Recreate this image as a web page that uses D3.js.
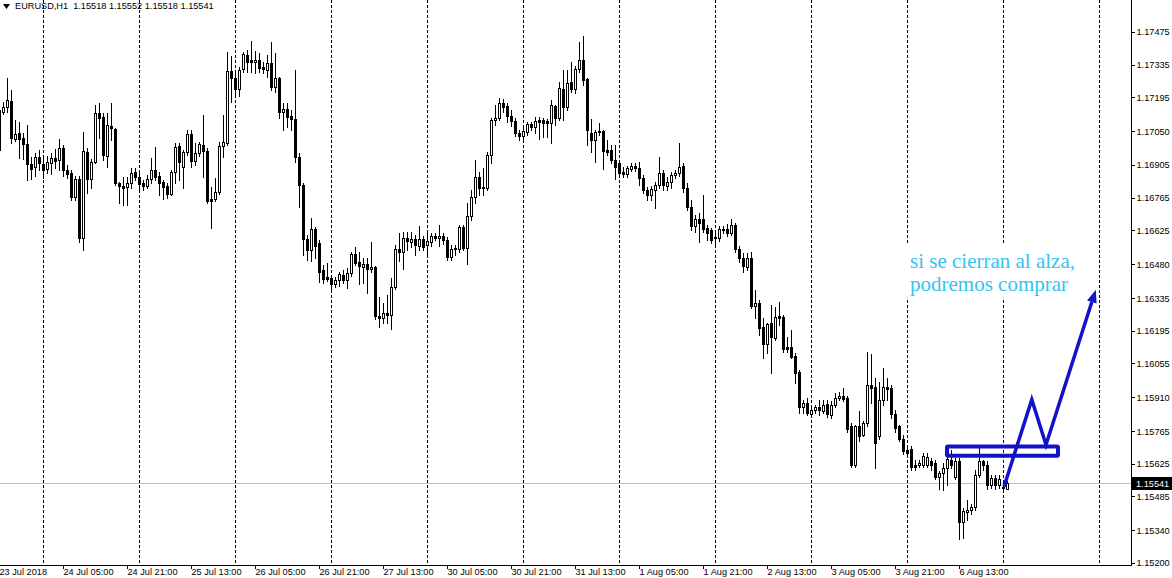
<!DOCTYPE html>
<html><head><meta charset="utf-8">
<script src="https://cdn.jsdelivr.net/npm/d3@7"></script>
<style>body{margin:0;background:#fff}svg{display:block}</style>
</head><body>
<svg id="c" width="1172" height="578"></svg>
<script>
// ---------- DATA ----------
const symbolTitle = "EURUSD,H1  1.15518 1.15552 1.15518 1.15541";
const firstBar = -11; // bar index of first candle (24 Jul 00:00 = bar 0), H1 bars

const open = [
1.17141,1.17132,1.17154,1.17180,1.17017,1.17043,1.17021,1.16996,1.16910,1.16897,1.16940,
1.16910,1.16889,1.16915,1.16936,1.16927,1.16979,1.16884,1.16872,1.16769,1.16846,
1.16593,1.16961,1.16846,1.16919,1.17128,1.17111,1.16944,1.17073,1.17060,1.16829,
1.16816,1.16812,1.16829,1.16876,1.16854,1.16829,1.16816,1.16846,1.16884,1.16859,
1.16833,1.16816,1.16782,1.16876,1.16987,1.16897,1.16961,1.17039,1.16923,1.16957,
1.16991,1.16966,1.16760,1.16760,1.16790,1.16987,1.17000,1.17308,1.17278,1.17231,
1.17317,1.17377,1.17355,1.17347,1.17355,1.17325,1.17312,1.17342,1.17240,1.17278,
1.17132,1.17145,1.17116,1.17103,1.16940,1.16820,1.16589,1.16542,1.16632,1.16572,
1.16456,1.16426,1.16422,1.16397,1.16414,1.16435,1.16414,1.16444,1.16525,1.16491,
1.16469,1.16482,1.16461,1.16469,1.16260,1.16251,1.16272,1.16264,1.16384,1.16546,
1.16534,1.16593,1.16576,1.16589,1.16559,1.16589,1.16563,1.16576,1.16602,1.16593,
1.16602,1.16585,1.16512,1.16551,1.16546,1.16641,1.16551,1.16688,1.16769,1.16854,
1.16812,1.16807,1.16949,1.17098,1.17107,1.17171,1.17158,1.17116,1.17094,1.17043,
1.17030,1.17047,1.17081,1.17068,1.17098,1.17098,1.17094,1.17086,1.17158,1.17107,
1.17231,1.17154,1.17261,1.17231,1.17317,1.17355,1.17274,1.17043,1.17013,1.17051,
1.17051,1.16970,1.16970,1.16927,1.16915,1.16876,1.16867,1.16889,1.16902,1.16893,
1.16850,1.16799,1.16777,1.16799,1.16820,1.16872,1.16816,1.16833,1.16863,1.16872,
1.16902,1.16807,1.16726,1.16645,1.16675,1.16675,1.16636,1.16628,1.16598,1.16593,
1.16632,1.16632,1.16615,1.16649,1.16546,1.16508,1.16469,1.16508,1.16302,1.16315,
1.16212,1.16139,1.16230,1.16165,1.16260,1.16255,1.16127,1.16127,1.16088,1.16020,
1.15870,1.15887,1.15840,1.15857,1.15870,1.15853,1.15883,1.15836,1.15879,1.15909,
1.15917,1.15909,1.15785,1.15618,1.15789,1.15750,1.15798,1.15964,1.15956,1.15746,
1.15900,1.15956,1.15951,1.15840,1.15785,1.15733,1.15686,1.15690,1.15622,1.15618,
1.15622,1.15622,1.15639,1.15630,1.15570,1.15587,1.15609,1.15643,1.15570,1.15635,
1.15374,1.15417,1.15429,1.15438,1.15579,1.15635,1.15622,1.15536,1.15566,1.15536,
1.15527,1.15518];

const high = [
1.17163,1.17175,1.17278,1.17227,1.17098,1.17090,1.17043,1.17077,1.16940,1.16957,1.16970,
1.16940,1.16944,1.16957,1.16974,1.17017,1.16991,1.16906,1.16884,1.16859,1.16859,
1.17047,1.16979,1.16932,1.17163,1.17171,1.17128,1.17128,1.17171,1.17064,1.16833,
1.16854,1.16854,1.16893,1.16893,1.16876,1.16842,1.16863,1.16936,1.16983,1.16876,
1.16842,1.16829,1.16884,1.17000,1.17000,1.16970,1.17056,1.17056,1.17000,1.17004,
1.17120,1.16979,1.16812,1.16850,1.17004,1.17120,1.17389,1.17372,1.17300,1.17325,
1.17389,1.17398,1.17436,1.17394,1.17385,1.17347,1.17377,1.17432,1.17385,1.17282,
1.17171,1.17171,1.17141,1.17312,1.16957,1.16829,1.16606,1.16679,1.16640,1.16585,
1.16478,1.16487,1.16431,1.16426,1.16448,1.16456,1.16465,1.16534,1.16555,1.16534,
1.16508,1.16508,1.16576,1.16474,1.16341,1.16315,1.16349,1.16422,1.16563,1.16615,
1.16619,1.16619,1.16619,1.16606,1.16645,1.16602,1.16619,1.16615,1.16615,1.16649,
1.16615,1.16598,1.16563,1.16563,1.16649,1.16649,1.16743,1.16799,1.16927,1.16876,
1.16893,1.16961,1.17107,1.17163,1.17193,1.17188,1.17171,1.17141,1.17107,1.17056,
1.17064,1.17090,1.17090,1.17111,1.17111,1.17107,1.17103,1.17184,1.17163,1.17261,
1.17312,1.17312,1.17347,1.17330,1.17432,1.17458,1.17278,1.17103,1.17056,1.17086,
1.17056,1.17013,1.16991,1.16991,1.16927,1.16897,1.16902,1.16915,1.16915,1.16919,
1.16863,1.16812,1.16816,1.16833,1.16940,1.16884,1.16854,1.16876,1.16884,1.17000,
1.16915,1.16829,1.16756,1.16692,1.16701,1.16777,1.16649,1.16636,1.16615,1.16645,
1.16645,1.16653,1.16675,1.16658,1.16559,1.16529,1.16529,1.16534,1.16371,1.16328,
1.16251,1.16230,1.16307,1.16298,1.16320,1.16264,1.16170,1.16200,1.16101,1.16028,
1.15900,1.15909,1.15870,1.15879,1.15900,1.15900,1.15900,1.15892,1.15930,1.15934,
1.15951,1.15917,1.15798,1.15793,1.15853,1.15810,1.16106,1.16097,1.15994,1.15977,
1.16037,1.15994,1.15964,1.15857,1.15793,1.15750,1.15703,1.15703,1.15643,1.15643,
1.15673,1.15673,1.15652,1.15643,1.15596,1.15630,1.15665,1.15686,1.15652,1.15652,
1.15434,1.15472,1.15451,1.15600,1.15707,1.15643,1.15635,1.15579,1.15575,1.15575,
1.15549,1.15552];

const low = [
1.16949,1.17124,1.17132,1.17000,1.17009,1.16936,1.16932,1.16842,1.16846,1.16859,1.16884,
1.16850,1.16872,1.16867,1.16893,1.16884,1.16859,1.16850,1.16756,1.16756,1.16576,
1.16542,1.16786,1.16807,1.16915,1.17021,1.16927,1.16897,1.17013,1.16820,1.16743,
1.16735,1.16735,1.16807,1.16842,1.16790,1.16799,1.16807,1.16829,1.16842,1.16777,
1.16760,1.16765,1.16777,1.16829,1.16842,1.16807,1.16949,1.16897,1.16906,1.16944,
1.16854,1.16743,1.16636,1.16752,1.16782,1.16940,1.16991,1.17175,1.17205,1.17201,
1.17304,1.17304,1.17304,1.17300,1.17304,1.17300,1.17282,1.17227,1.17218,1.17107,
1.17056,1.17068,1.17056,1.16919,1.16726,1.16521,1.16499,1.16495,1.16508,1.16405,
1.16401,1.16409,1.16371,1.16384,1.16388,1.16401,1.16380,1.16431,1.16478,1.16397,
1.16401,1.16358,1.16448,1.16247,1.16212,1.16230,1.16230,1.16204,1.16375,1.16495,
1.16461,1.16542,1.16555,1.16521,1.16542,1.16542,1.16521,1.16559,1.16585,1.16559,
1.16568,1.16499,1.16499,1.16521,1.16534,1.16542,1.16482,1.16670,1.16743,1.16777,
1.16777,1.16799,1.16915,1.17077,1.17098,1.17132,1.17090,1.17073,1.17030,1.17013,
1.17004,1.17034,1.17056,1.17043,1.17017,1.17026,1.17026,1.17000,1.17077,1.17098,
1.17098,1.17141,1.17218,1.17214,1.17304,1.17248,1.16991,1.16961,1.16919,1.17034,
1.16889,1.16949,1.16915,1.16846,1.16859,1.16854,1.16854,1.16880,1.16880,1.16820,
1.16786,1.16756,1.16756,1.16722,1.16807,1.16799,1.16799,1.16807,1.16850,1.16859,
1.16790,1.16713,1.16628,1.16619,1.16576,1.16619,1.16585,1.16572,1.16563,1.16580,
1.16615,1.16602,1.16606,1.16534,1.16491,1.16448,1.16456,1.16294,1.16251,1.16178,
1.16080,1.16101,1.16016,1.16157,1.16221,1.16105,1.16105,1.16080,1.15973,1.15844,
1.15844,1.15836,1.15832,1.15844,1.15836,1.15844,1.15827,1.15823,1.15870,1.15900,
1.15896,1.15763,1.15610,1.15610,1.15721,1.15742,1.15789,1.15887,1.15605,1.15733,
1.15879,1.15900,1.15823,1.15763,1.15724,1.15665,1.15656,1.15600,1.15600,1.15610,
1.15613,1.15613,1.15600,1.15558,1.15515,1.15511,1.15536,1.15609,1.15558,1.15301,
1.15309,1.15386,1.15408,1.15429,1.15570,1.15600,1.15515,1.15523,1.15515,1.15523,
1.15515,1.15518];

const close = [
1.16970,1.17154,1.17184,1.17021,1.17039,1.17017,1.16996,1.16910,1.16889,1.16940,1.16915,
1.16884,1.16919,1.16936,1.16923,1.16979,1.16884,1.16867,1.16769,1.16846,1.16593,
1.16966,1.16846,1.16919,1.17128,1.17107,1.16949,1.17077,1.17064,1.16829,1.16816,
1.16807,1.16829,1.16872,1.16854,1.16824,1.16816,1.16846,1.16884,1.16854,1.16829,
1.16812,1.16782,1.16876,1.16983,1.16919,1.16961,1.17039,1.16923,1.16957,1.16996,
1.16966,1.16752,1.16752,1.16790,1.16987,1.17004,1.17308,1.17278,1.17231,1.17312,
1.17381,1.17347,1.17347,1.17355,1.17321,1.17317,1.17342,1.17240,1.17278,1.17132,
1.17145,1.17111,1.17103,1.16940,1.16820,1.16589,1.16542,1.16632,1.16559,1.16448,
1.16418,1.16418,1.16397,1.16414,1.16439,1.16414,1.16444,1.16525,1.16487,1.16474,
1.16482,1.16461,1.16469,1.16260,1.16251,1.16272,1.16264,1.16384,1.16546,1.16534,
1.16593,1.16580,1.16589,1.16563,1.16589,1.16555,1.16580,1.16602,1.16593,1.16602,
1.16585,1.16512,1.16546,1.16546,1.16641,1.16551,1.16688,1.16769,1.16854,1.16807,
1.16807,1.16949,1.17098,1.17107,1.17171,1.17154,1.17116,1.17094,1.17043,1.17030,
1.17051,1.17081,1.17068,1.17094,1.17090,1.17086,1.17086,1.17163,1.17107,1.17235,
1.17154,1.17257,1.17231,1.17317,1.17355,1.17270,1.17056,1.17013,1.17047,1.17047,
1.16966,1.16961,1.16927,1.16897,1.16872,1.16867,1.16893,1.16902,1.16893,1.16850,
1.16799,1.16777,1.16803,1.16820,1.16872,1.16820,1.16833,1.16863,1.16872,1.16897,
1.16807,1.16726,1.16645,1.16675,1.16658,1.16632,1.16615,1.16585,1.16593,1.16632,
1.16628,1.16615,1.16649,1.16546,1.16508,1.16474,1.16508,1.16302,1.16315,1.16208,
1.16139,1.16225,1.16170,1.16255,1.16251,1.16118,1.16118,1.16084,1.16016,1.15870,
1.15887,1.15844,1.15857,1.15870,1.15857,1.15879,1.15840,1.15879,1.15909,1.15917,
1.15904,1.15776,1.15618,1.15789,1.15746,1.15798,1.15964,1.15951,1.15716,1.15900,
1.15956,1.15947,1.15840,1.15780,1.15733,1.15678,1.15673,1.15613,1.15613,1.15630,
1.15660,1.15656,1.15618,1.15570,1.15587,1.15609,1.15647,1.15622,1.15635,1.15374,
1.15421,1.15429,1.15438,1.15579,1.15635,1.15622,1.15536,1.15566,1.15536,1.15562,
1.15523,1.15541];

const priceTicks = [1.17475,1.17335,1.17195,1.17050,1.16905,1.16765,1.16625,1.16480,1.16335,1.16195,1.16055,1.15910,1.15765,1.15625,1.15485,1.15340,1.15200];
const timeLabels = ["23 Jul 2018","24 Jul 05:00","24 Jul 21:00","25 Jul 13:00","26 Jul 05:00","26 Jul 21:00","27 Jul 13:00","30 Jul 05:00","30 Jul 21:00","31 Jul 13:00","1 Aug 05:00","1 Aug 21:00","2 Aug 13:00","3 Aug 05:00","3 Aug 21:00","6 Aug 13:00"];
const timeLabelBars = [-11,5,21,37,53,69,85,101,117,133,149,165,181,197,213,229];
const daySeparatorBars = [0,24,48,72,96,120,144,168,192,216,240,264];
const lastPrice = 1.15541;

// annotation (drawn on the chart)
const noteLines = ["si se cierran al alza,", "podremos comprar"];
const noteBar = 216.75, notePrice = 1.16465;
const boxBars = [226, 253.75], boxPrices = [1.15699, 1.15660];
const arrowBars = [240.25, 247.2, 250.75, 263.2];
const arrowPrices = [1.15527, 1.15900, 1.15707, 1.16371];

// ---------- LAYOUT ----------
const W = 1172, H = 578, plotR = 1131, plotB = 565;
const svg = d3.select("#c");
const x = d3.scaleLinear().domain([0, 264]).range([43, 1099]);
const y = d3.scaleLinear().domain([1.15200, 1.17475]).range([563, 32]);
const FONT = "'Liberation Sans', Arial, sans-serif";
const FS = 9.2;

svg.append("rect").attr("width", W).attr("height", H).attr("fill", "#fff");
svg.append("defs").append("clipPath").attr("id", "plot")
  .append("rect").attr("x", 0).attr("y", 0).attr("width", plotR).attr("height", plotB);

const plot = svg.append("g").attr("clip-path", "url(#plot)");

// day separators
plot.append("g").selectAll("line").data(daySeparatorBars).join("line")
  .attr("x1", d => Math.round(x(d)) + 0.5).attr("x2", d => Math.round(x(d)) + 0.5)
  .attr("y1", 0).attr("y2", plotB)
  .attr("stroke", "#000").attr("stroke-width", 1).attr("stroke-dasharray", "3,2")
  .attr("shape-rendering", "crispEdges");

// bid line
plot.append("line").attr("x1", 0).attr("x2", plotR)
  .attr("y1", Math.round(y(lastPrice)) + 0.5).attr("y2", Math.round(y(lastPrice)) + 0.5)
  .attr("stroke", "#c0c0c0").attr("shape-rendering", "crispEdges");

// candles
const bars = open.map((o, i) => ({ bar: firstBar + i, o, h: high[i], l: low[i], c: close[i] }));
const cg = plot.append("g").attr("shape-rendering", "crispEdges");
bars.forEach(d => {
  const cx = Math.round(x(d.bar));
  const yh = Math.round(y(d.h)), yl = Math.round(y(d.l));
  const yt = Math.round(y(Math.max(d.o, d.c))), yb = Math.round(y(Math.min(d.o, d.c)));
  cg.append("rect").attr("x", cx).attr("y", yh).attr("width", 1).attr("height", yl - yh + 1).attr("fill", "#000");
  cg.append("rect").attr("x", cx - 1).attr("y", yt).attr("width", 3).attr("height", yb - yt + 1).attr("fill", "#000");
  if (d.c > d.o && yb - yt > 1) {
    cg.append("rect").attr("x", cx).attr("y", yt + 1).attr("width", 1).attr("height", yb - yt - 1).attr("fill", "#fff");
  }
});

// frame
svg.append("line").attr("x1", plotR + 0.5).attr("x2", plotR + 0.5).attr("y1", 0).attr("y2", plotB + 0.5)
  .attr("stroke", "#000").attr("shape-rendering", "crispEdges");
svg.append("line").attr("x1", 0).attr("x2", plotR + 0.5).attr("y1", plotB + 0.5).attr("y2", plotB + 0.5)
  .attr("stroke", "#000").attr("shape-rendering", "crispEdges");

// right price axis
const ya = svg.append("g").attr("transform", `translate(${plotR + 0.5},0)`)
  .call(d3.axisRight(y).tickValues(priceTicks).tickFormat(d3.format(".5f")).tickSize(3).tickPadding(2));
ya.select(".domain").remove();
ya.selectAll("line").attr("stroke", "#000").attr("shape-rendering", "crispEdges");
ya.selectAll("text").attr("font-family", FONT).attr("font-size", FS).attr("fill", "#000");

// last price tag
const lp = svg.append("g");
lp.append("rect").attr("x", plotR + 1).attr("y", Math.round(y(lastPrice)) - 6).attr("width", W - plotR - 1).attr("height", 13).attr("fill", "#000");
lp.append("text").attr("x", plotR + 5).attr("y", Math.round(y(lastPrice)) + 0.5).attr("dy", "0.35em")
  .attr("font-family", FONT).attr("font-size", FS).attr("fill", "#fff").text(d3.format(".5f")(lastPrice));

// bottom time axis
const xa = svg.append("g").attr("transform", `translate(0,${plotB + 0.5})`)
  .call(d3.axisBottom(x).tickValues(timeLabelBars).tickFormat((d, i) => timeLabels[i]).tickSize(3).tickPadding(1));
xa.select(".domain").remove();
xa.selectAll("line").attr("stroke", "#000").attr("shape-rendering", "crispEdges");
xa.selectAll("text").attr("font-family", FONT).attr("font-size", FS).attr("fill", "#000")
  .attr("text-anchor", "start").attr("dx", 0).attr("y", 3).attr("dy", "0.71em");

// title
svg.append("path").attr("d", "M3,4 L10,4 L6.5,9 Z").attr("fill", "#000");
svg.append("text").attr("x", 15).attr("y", 9).attr("font-family", FONT).attr("font-size", FS)
  .attr("fill", "#000").attr("xml:space", "preserve").style("white-space", "pre").text(symbolTitle);

// annotation: text with white background
const ann = svg.append("g");
const bg = ann.append("rect").attr("fill", "#fff");
const tx = ann.append("text").attr("x", x(noteBar)).attr("y", y(notePrice))
  .attr("font-family", "'Liberation Serif', 'Times New Roman', serif").attr("font-size", 21).attr("fill", "#36c3f1");
noteLines.forEach((t, i) => tx.append("tspan").attr("x", x(noteBar)).attr("dy", i === 0 ? 0 : 23).text(t));
const bb = tx.node().getBBox();
bg.attr("x", bb.x - 12).attr("y", bb.y - 4).attr("width", bb.width + 36).attr("height", bb.height + 6);

// rectangle
const BLUE = "#1212c8";
ann.append("rect")
  .attr("x", x(boxBars[0])).attr("y", y(boxPrices[0]))
  .attr("width", x(boxBars[1]) - x(boxBars[0])).attr("height", y(boxPrices[1]) - y(boxPrices[0]))
  .attr("fill", "none").attr("stroke", BLUE).attr("stroke-width", 4).attr("rx", 1);

// arrow path
const pts = arrowBars.map((b, i) => [x(b), y(arrowPrices[i])]);
const n = pts.length;
const [tx2, ty2] = pts[n - 1], [tx1, ty1] = pts[n - 2];
const ang = Math.atan2(ty2 - ty1, tx2 - tx1);
const headL = 13, headW = 5;
const base = [tx2 - headL * Math.cos(ang), ty2 - headL * Math.sin(ang)];
const linePts = pts.slice(0, n - 1).concat([base]);
ann.append("path").attr("d", d3.line()(linePts)).attr("fill", "none")
  .attr("stroke", BLUE).attr("stroke-width", 3.5).attr("stroke-linejoin", "miter");
const px = -Math.sin(ang), py = Math.cos(ang);
ann.append("path").attr("d", d3.line()([[tx2, ty2], [base[0] + px * headW, base[1] + py * headW], [base[0] - px * headW, base[1] - py * headW]]) + "Z")
  .attr("fill", BLUE);
</script>
</body></html>
